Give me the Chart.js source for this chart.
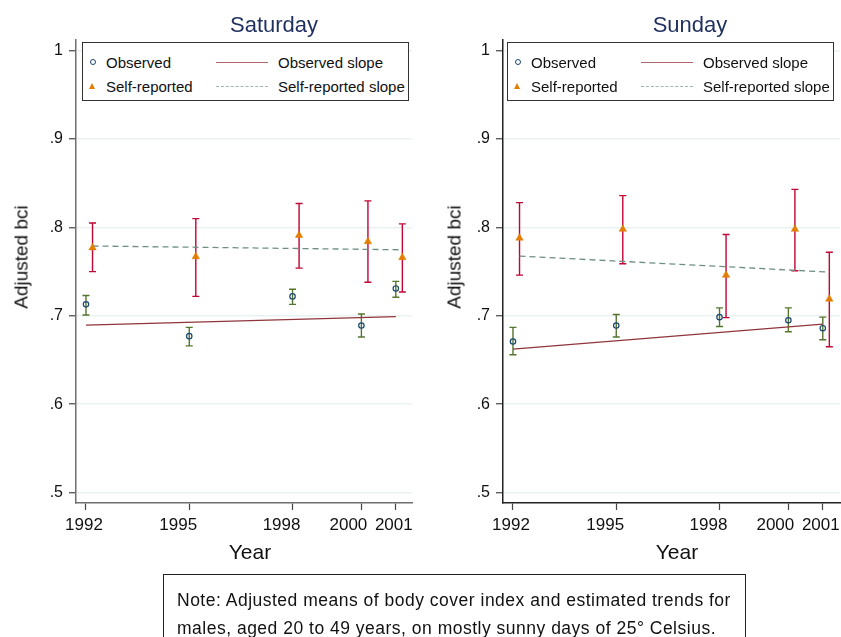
<!DOCTYPE html>
<html>
<head>
<meta charset="utf-8">
<script src="https://cdn.jsdelivr.net/npm/chart.js@4"></script>
<style>
  html, body { margin: 0; padding: 0; background: #fff; }
  body { width: 841px; height: 637px; position: relative; overflow: hidden;
         font-family: 'Liberation Sans', Arial, Helvetica, sans-serif; color: #111; }
  canvas { position: absolute; top: 0; }
  .title { position: absolute; font-size: 22px; line-height: 22px; color: #1f305f; white-space: nowrap;
           transform: translateX(-50%); }
  .ytitle { position: absolute; font-size: 19px; line-height: 19px; white-space: nowrap;
            transform: translate(-50%, -50%) rotate(-90deg); }
  .xtitle { position: absolute; font-size: 21px; line-height: 21px; white-space: nowrap;
            transform: translateX(-50%); }
  .legend { position: absolute; width: 325px; height: 57px; border: 1px solid #333; background: #fff;
            font-size: 15px; line-height: 15px; }
  .legend span { position: absolute; white-space: nowrap; }
  .dot { width: 4px; height: 4px; border: 1.2px solid #1a476f; border-radius: 50%; }
  .tri { width: 0; height: 0; border-left: 3.5px solid transparent; border-right: 3.5px solid transparent;
         border-bottom: 6px solid #e37e00; }
  .solid { width: 52px; height: 0; border-top: 1.3px solid #b0666b; }
  .dash { width: 52px; height: 0; border-top: 1.3px dashed #9fb5ad; }
  .note { position: absolute; left: 163px; top: 574px; width: 583px; height: 70px; border: 1px solid #222;
          font-size: 17.5px; letter-spacing: 0.5px; line-height: 28.4px; padding-left: 13px; padding-top: 11px;
          box-sizing: border-box; }
</style>
</head>
<body>
<canvas id="sat" width="420" height="570" style="left:0px"></canvas>
<canvas id="sun" width="420" height="570" style="left:430px"></canvas>

<div class="title" style="left:274px;top:14px">Saturday</div>
<div class="title" style="left:690px;top:14px">Sunday</div>
<div class="ytitle" style="left:21px;top:257px">Adjusted bci</div>
<div class="ytitle" style="left:454px;top:257px">Adjusted bci</div>
<div class="xtitle" style="left:250px;top:541px">Year</div>
<div class="xtitle" style="left:677px;top:541px">Year</div>

<div id="legSat" class="legend" style="left:82px;top:42px"></div>
<div id="legSun" class="legend" style="left:507px;top:42px"></div>

<div class="note">Note: Adjusted means of body cover index and estimated trends for<br>males, aged 20 to 49 years, on mostly sunny days of 25° Celsius.</div>

<script>
// ---- data ----
const years = [1992, 1995, 1998, 2000, 2001];
const yearLabels = ['1992', '1995', '1998', '2000', '2001'];
const yTicks = [0.5, 0.6, 0.7, 0.8, 0.9, 1];
const yTickLabels = ['.5', '.6', '.7', '.8', '.9', '1'];
const legendLabels = ['Observed', 'Self-reported', 'Observed slope', 'Self-reported slope'];

// Saturday
const satObs    = [0.713, 0.677, 0.722, 0.689, 0.731];
const satObsLo  = [0.701, 0.666, 0.713, 0.676, 0.721];
const satObsHi  = [0.723, 0.687, 0.730, 0.702, 0.739];
const satSelf   = [0.777, 0.767, 0.791, 0.784, 0.766];
const satSelfLo = [0.750, 0.722, 0.754, 0.738, 0.727];
const satSelfHi = [0.805, 0.810, 0.827, 0.830, 0.804];
const satObsSlope  = [0.6895, 0.699];   // at first / last year
const satSelfSlope = [0.779, 0.7747];

// Sunday
const sunObs    = [0.671, 0.689, 0.6985, 0.695, 0.686];
const sunObsLo  = [0.656, 0.676, 0.688, 0.682, 0.673];
const sunObsHi  = [0.687, 0.7015, 0.709, 0.709, 0.6985];
const sunSelf   = [0.788, 0.798, 0.746, 0.798, 0.719];
const sunSelfLo = [0.746, 0.759, 0.698, 0.751, 0.665];
const sunSelfHi = [0.828, 0.836, 0.792, 0.843, 0.772];
const sunObsSlope  = [0.6623, 0.6906];
const sunSelfSlope = [0.7676, 0.7495];

// self-reported marks are nudged right of the year so the bars don't overlap
const SELF_SHIFT = 0.19;
// the year labels in the original sit a bit left of their ticks (px)
const LABEL_NUDGE = [-2, -11, -11, -13, -2];

const C = {
  navy: '#1a476f', maroon: '#90353b', green: '#55752f',
  orange: '#e37e00', teal: '#6e8e84', cranberry: '#c10534'
};

Chart.defaults.font.family = "'Liberation Sans', Arial, Helvetica, sans-serif";
Chart.defaults.color = '#111';

// vertical error bars with caps, drawn under the markers
const errorBars = {
  id: 'errorBars',
  beforeDatasetsDraw(chart) {
    const { ctx, scales: { x, y } } = chart;
    chart.data.datasets.forEach(ds => {
      if (!ds.errLo) return;
      ctx.save();
      ctx.strokeStyle = ds.errColor;
      ctx.lineWidth = 1.4;
      ds.data.forEach((p, i) => {
        const px = x.getPixelForValue(p.x);
        const top = y.getPixelForValue(ds.errHi[i]);
        const bot = y.getPixelForValue(ds.errLo[i]);
        ctx.beginPath();
        ctx.moveTo(px, top); ctx.lineTo(px, bot);
        ctx.moveTo(px - 3.5, top); ctx.lineTo(px + 3.5, top);
        ctx.moveTo(px - 3.5, bot); ctx.lineTo(px + 3.5, bot);
        ctx.stroke();
      });
      ctx.restore();
    });
  }
};

// year labels under the x ticks
const yearTickLabels = {
  id: 'yearTickLabels',
  afterDraw(chart) {
    const { ctx, scales: { x } } = chart;
    ctx.save();
    ctx.font = "17px 'Liberation Sans', Arial, sans-serif";
    ctx.fillStyle = '#111';
    ctx.textAlign = 'center';
    ctx.textBaseline = 'alphabetic';
    years.forEach((yr, i) => {
      ctx.fillText(yearLabels[i], x.getPixelForValue(yr) + LABEL_NUDGE[i], x.top + 27);
    });
    ctx.restore();
  }
};

function makeChart(id, d, opt) {
  const pts = (vals, shift) => vals.map((v, i) => ({ x: years[i] + shift, y: v }));
  const first = years[0], last = years[years.length - 1];
  return new Chart(document.getElementById(id), {
    type: 'scatter',
    data: {
      datasets: [
        { label: legendLabels[2], type: 'line', data: [{ x: first, y: d.obsSlope[0] }, { x: last, y: d.obsSlope[1] }],
          borderColor: C.maroon, borderWidth: 1.3, pointRadius: 0, order: 3 },
        { label: legendLabels[3], type: 'line', data: [{ x: first + SELF_SHIFT, y: d.selfSlope[0] }, { x: last + SELF_SHIFT, y: d.selfSlope[1] }],
          borderColor: C.teal, borderWidth: 1.3, borderDash: [6, 4], pointRadius: 0, order: 3 },
        { label: legendLabels[0], data: pts(d.obs, 0), errLo: d.obsLo, errHi: d.obsHi, errColor: C.green,
          pointStyle: 'circle', pointRadius: 2.7, borderWidth: 1.2, borderColor: C.navy,
          backgroundColor: 'rgba(255,255,255,0)', order: 1 },
        { label: legendLabels[1], data: pts(d.self, SELF_SHIFT), errLo: d.selfLo, errHi: d.selfHi, errColor: C.cranberry,
          pointStyle: 'triangle', pointRadius: 4.3, borderWidth: 0.5, borderColor: C.orange,
          backgroundColor: C.orange, order: 1 }
      ]
    },
    options: {
      responsive: false,
      animation: false,
      devicePixelRatio: 1,
      layout: { padding: { left: 0, right: opt.padRight, top: 40, bottom: 0 } },
      plugins: { legend: { display: false }, tooltip: { enabled: false } },
      scales: {
        x: {
          type: 'linear', min: 1991.71, max: opt.xMax,
          afterBuildTicks: s => { s.ticks = years.map(v => ({ value: v })); },
          afterFit: s => { s.height = 67; },
          grid: { drawOnChartArea: false, tickLength: 7, tickColor: '#444', tickWidth: 1.2 },
          border: { color: opt.axisColor, width: 1.5 },
          ticks: { display: false }
        },
        y: {
          min: 0.4883, max: 1.012,
          afterBuildTicks: s => { s.ticks = yTicks.map(v => ({ value: v })); },
          afterFit: s => { s.width = opt.yWidth; },
          grid: { color: '#e9f1f1', lineWidth: 1.5, tickLength: 7, tickColor: '#444', tickWidth: 1.2 },
          border: { color: opt.axisColor, width: 1.5 },
          ticks: { font: { size: 16 }, color: '#111', padding: 6,
                   callback: v => yTickLabels[yTicks.findIndex(t => Math.abs(t - v) < 1e-6)] }
        }
      }
    },
    plugins: [errorBars, yearTickLabels]
  });
}

makeChart('sat', {
  obs: satObs, obsLo: satObsLo, obsHi: satObsHi,
  self: satSelf, selfLo: satSelfLo, selfHi: satSelfHi,
  obsSlope: satObsSlope, selfSlope: satSelfSlope
}, { xMax: 2001.47, padRight: 8, yWidth: 76, axisColor: '#6f6f6f' });

makeChart('sun', {
  obs: sunObs, obsLo: sunObsLo, obsHi: sunObsHi,
  self: sunSelf, selfLo: sunSelfLo, selfHi: sunSelfHi,
  obsSlope: sunObsSlope, selfSlope: sunSelfSlope
}, { xMax: 2001.5, padRight: 10, yWidth: 73, axisColor: '#222' });

// legends (two columns, boxed, inside the plot)
function buildLegend(id) {
  const el = document.getElementById(id);
  el.innerHTML =
    '<span class="dot" style="left:7px;top:16px"></span>' +
    '<span style="left:23px;top:12px">' + legendLabels[0] + '</span>' +
    '<span class="tri" style="left:6px;top:40px"></span>' +
    '<span style="left:23px;top:36px">' + legendLabels[1] + '</span>' +
    '<span class="solid" style="left:133px;top:19px"></span>' +
    '<span style="left:195px;top:12px">' + legendLabels[2] + '</span>' +
    '<span class="dash" style="left:133px;top:43px"></span>' +
    '<span style="left:195px;top:36px">' + legendLabels[3] + '</span>';
}
buildLegend('legSat');
buildLegend('legSun');
</script>
</body>
</html>
